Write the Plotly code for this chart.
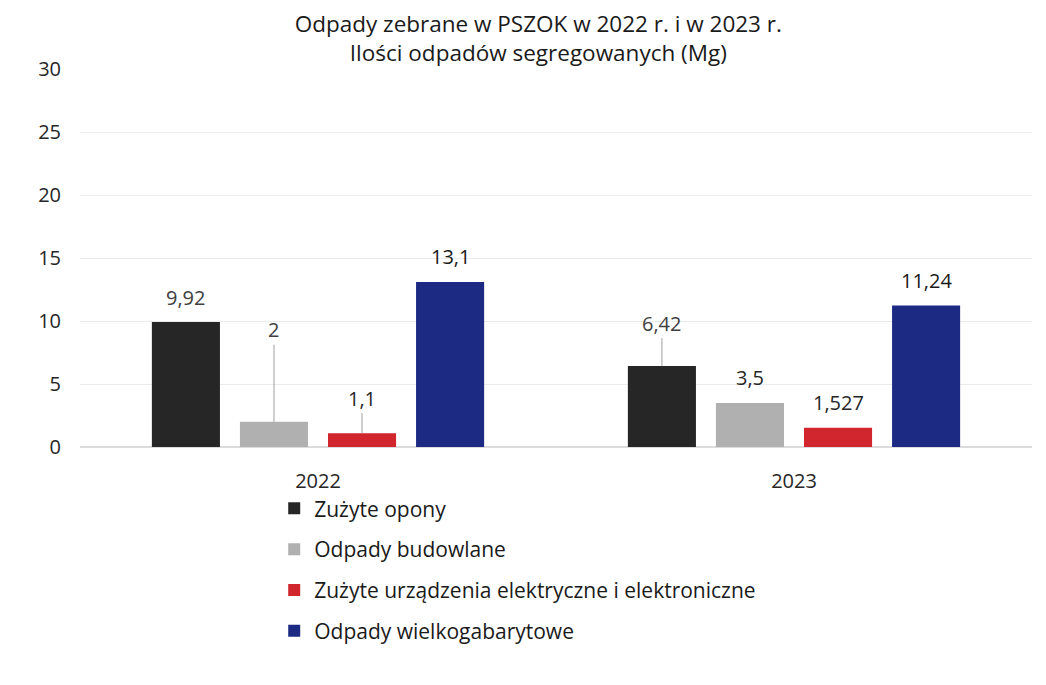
import plotly.graph_objects as go

categories = ["2022", "2023"]
series_names = ["Zużyte opony", "Odpady budowlane",
                "Zużyte urządzenia elektryczne i elektroniczne", "Odpady wielkogabarytowe"]
zuzyte_opony = [9.92, 6.42]
odpady_budowlane = [2.0, 3.5]
zuzyte_urzadzenia = [1.1, 1.527]
odpady_wielkogabarytowe = [13.1, 11.24]
labels = [["9,92", "6,42"], ["2", "3,5"], ["1,1", "1,527"], ["13,1", "11,24"]]
y_ticks = [0, 5, 10, 15, 20, 25, 30]

colors = ["#262626", "#b0b0b0", "#d2262f", "#1c2a84"]
label_colors = [["#404040", "#404040"], ["#404040", "#262626"],
                ["#262626", "#262626"], ["#1a1a1a", "#1a1a1a"]]
# label offset (px above bar top); leader line where large
label_offsets = [[25, 43], [92, 25], [35, 25], [25, 25]]
leader = [[False, True], [True, False], [True, False], [False, False]]

values = [zuzyte_opony, odpady_budowlane, zuzyte_urzadzenia, odpady_wielkogabarytowe]
FONT = "Open Sans"

fig = go.Figure()
for k, (name, vals, col) in enumerate(zip(series_names, values, colors)):
    fig.add_trace(go.Bar(name=name, x=categories, y=vals, marker_color=col,
                         marker_line_width=0, legendgroup=f"g{k}"))

bargap = 0.26
bargroupgap = 0.227
nser = len(values)
plot_left, plot_right = 72, 1024
cat_px = (plot_right - plot_left) / len(categories)
slot_px = cat_px * (1 - bargap) / nser

annotations = []
for i in range(nser):
    xshift = (i - (nser - 1) / 2) * slot_px
    for j, cat in enumerate(categories):
        off = label_offsets[i][j]
        if leader[i][j]:
            annotations.append(dict(x=j, y=values[i][j], xref="x", yref="y",
                                    text=labels[i][j], showarrow=True, arrowhead=0,
                                    arrowwidth=1, arrowcolor="#a0a0a0", ax=0, ay=-off,
                                    xshift=xshift, standoff=0,
                                    font=dict(family=FONT, size=20, color=label_colors[i][j])))
        else:
            annotations.append(dict(x=j, y=values[i][j], xref="x", yref="y",
                                    text=labels[i][j], showarrow=False,
                                    xshift=xshift, yshift=off,
                                    font=dict(family=FONT, size=20, color=label_colors[i][j])))

fig.update_layout(
    width=1046, height=685,
    margin=dict(l=72, r=22, t=61, b=246),
    paper_bgcolor="white", plot_bgcolor="white",
    barmode="group", bargap=bargap, bargroupgap=bargroupgap,
    title=dict(text="Odpady zebrane w PSZOK w 2022 r. i w 2023 r.<br>Ilości odpadów segregowanych (Mg)",
               x=0.507, xanchor="center", y=0.965, yanchor="middle",
               font=dict(family=FONT, size=22.5, color="#1a1a1a")),
    font=dict(family=FONT, size=20, color="#262626"),
    showlegend=True,
    legend=dict(orientation="v", x=0.204, xanchor="left", y=-0.109, yanchor="top",
                font=dict(family=FONT, size=21, color="#1a1a1a"),
                tracegroupgap=10.5, itemwidth=30, traceorder="grouped"),
    annotations=annotations,
)
fig.update_yaxes(range=[0, 30], tickvals=y_ticks, showgrid=True, gridcolor="#ebebeb",
                 zeroline=True, zerolinecolor="#dcdcdc", ticks="", ticklabelstandoff=18,
                 tickfont=dict(family=FONT, size=20, color="#262626"))
fig.update_xaxes(type="category", range=[-0.5, 1.5], showgrid=False, ticks="", showline=False,
                 ticklabelstandoff=20,
                 tickfont=dict(family=FONT, size=20, color="#262626"))

fig.write_html("out.html")
